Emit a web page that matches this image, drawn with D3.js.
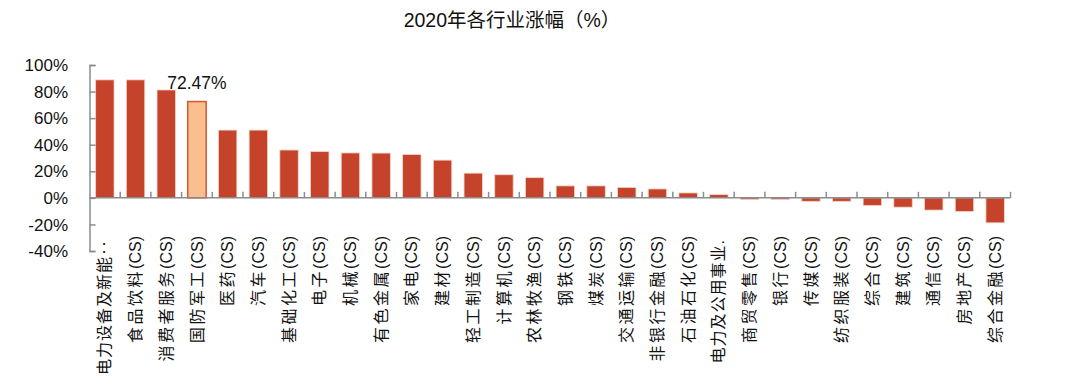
<!DOCTYPE html>
<html><head><meta charset="utf-8">
<script src="https://cdn.jsdelivr.net/npm/d3@7/dist/d3.min.js"></script>
<style>
body{margin:0;background:#fff;}
text{font-family:"Liberation Sans",Arial,"Noto Sans CJK SC",sans-serif;fill:#111;}
</style></head><body>
<svg id="c" width="1080" height="386"></svg>
<script>
const categories = ["电力设备及新能‥","食品饮料(CS)","消费者服务(CS)","国防军工(CS)","医药(CS)","汽车(CS)","基础化工(CS)","电子(CS)","机械(CS)","有色金属(CS)","家电(CS)","建材(CS)","轻工制造(CS)","计算机(CS)","农林牧渔(CS)","钢铁(CS)","煤炭(CS)","交通运输(CS)","非银行金融(CS)","石油石化(CS)","电力及公用事业.","商贸零售(CS)","银行(CS)","传媒(CS)","纺织服装(CS)","综合(CS)","建筑(CS)","通信(CS)","房地产(CS)","综合金融(CS)"];
const values = [88.8,88.8,81.2,72.47,51.0,51.0,36.0,34.8,33.8,33.7,32.6,28.4,18.6,17.4,15.2,9.0,9.0,7.8,6.7,3.7,2.4,-1.2,-1.2,-2.6,-2.6,-5.8,-7.0,-9.2,-10.2,-18.8];
const yTicks = [-40,-20,0,20,40,60,80,100];
const highlight = "国防军工(CS)";
const highlightLabel = "72.47%";
const title = "2020年各行业涨幅（%）";

const svg = d3.select("#c");
const x = d3.scaleBand().domain(categories).range([89.5,1010.5]).paddingInner(0.4).paddingOuter(0.2);
const y = d3.scaleLinear().domain([-40,100]).range([251,65]);

svg.append("text").attr("x",512).attr("y",27).attr("text-anchor","middle")
  .style("font-size","19.5px").text(title);

// bars
svg.selectAll("rect.bar").data(categories).join("rect")
  .attr("x",d=>x(d)).attr("width",x.bandwidth())
  .attr("y",(d,i)=>y(Math.max(0,values[i])))
  .attr("height",(d,i)=>Math.abs(y(values[i])-y(0)))
  .attr("fill",d=>d===highlight?"#F9BF8F":"#C5432A")
  .attr("stroke",d=>d===highlight?"#D9542F":"#F3D3C8")
  .attr("stroke-width",d=>d===highlight?1.5:0.8);

// y axis
const yAxis = d3.axisRight(y).tickValues(yTicks).tickSize(6).tickFormat("");
const ya = svg.append("g").attr("transform","translate(89.5,0)").call(yAxis);
ya.select(".domain").attr("stroke","#8c8c8c").attr("stroke-width",1.5);
ya.selectAll(".tick line").attr("stroke","#8c8c8c").attr("stroke-width",1.5);
svg.selectAll("text.ytl").data(yTicks).join("text").attr("class","ytl")
  .attr("x",68).attr("y",d=>y(d)).attr("dy","0.36em").attr("text-anchor","end")
  .style("font-size","17px").text(d=>d+"%");

// x axis line at 0
const bounds = d3.range(categories.length+1).map(i=>89.5 + i*(921/categories.length));
svg.append("line").attr("x1",89.5).attr("x2",1010.5).attr("y1",y(0)).attr("y2",y(0))
  .attr("stroke","#8c8c8c").attr("stroke-width",1.5);
svg.selectAll("line.xt").data(bounds.slice(1)).join("line").attr("class","xt")
  .attr("x1",d=>d).attr("x2",d=>d).attr("y1",y(0)).attr("y2",y(0)-6)
  .attr("stroke","#8c8c8c").attr("stroke-width",1.5);

// category labels
const lab = svg.selectAll("text.xl").data(categories).join("text").attr("class","xl")
  .attr("transform",d=>`translate(${x(d)+x.bandwidth()/2},${d.indexOf("(")<0?240:236}) rotate(-90)`)
  .attr("text-anchor","end").attr("dy","0.35em").style("font-size","16px");
lab.each(function(d){
  const t = d3.select(this);
  const m = d.match(/^([^(‥.]+)(.*)$/);
  const truncated = d.indexOf("(")<0;
  t.append("tspan").style("letter-spacing",truncated?"1px":"2.5px").text(m[1]);
  if(m[2]) t.append("tspan").text(m[2]);
});

// value label for highlight
const hi = categories.indexOf(highlight);
svg.append("text").attr("x",x(highlight)+x.bandwidth()/2).attr("y",y(values[hi])-13)
  .attr("text-anchor","middle").style("font-size","17.5px").text(highlightLabel);
</script></body></html>
